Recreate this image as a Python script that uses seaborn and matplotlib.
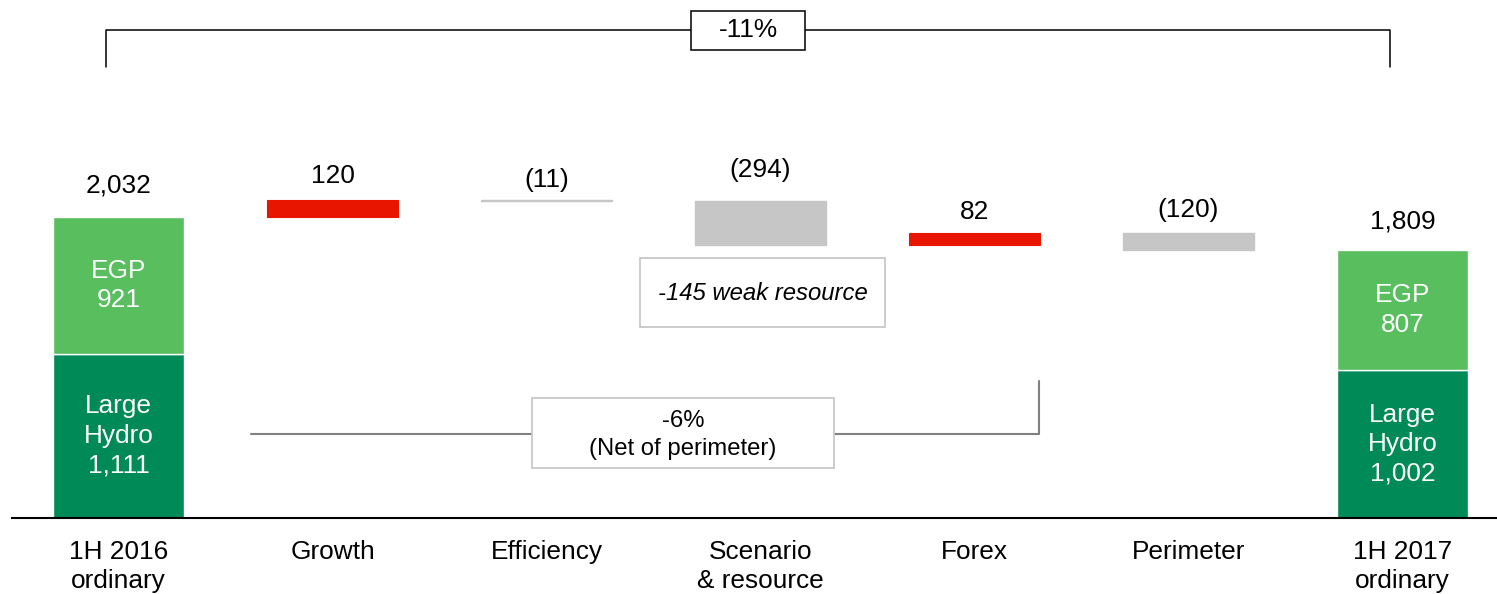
import numpy as np
import pandas as pd
import seaborn as sns
import matplotlib.pyplot as plt
from matplotlib.patches import Rectangle

# Data
categories = ["1H 2016\nordinary", "Growth", "Efficiency", "Scenario\n& resource",
              "Forex", "Perimeter", "1H 2017\nordinary"]
start_total = 2032
end_total = 1809
deltas = [120, -11, -294, 82, -120]
large_hydro = [1111, 1002]
egp = [921, 807]

# Colours
C_LH = "#008A57"
C_EGP = "#58BE5E"
C_UP = "#E81600"
C_DOWN = "#C6C6C6"

sns.set_style("white")
plt.rcParams['font.family'] = ['Liberation Sans', 'DejaVu Sans']
plt.rcParams['text.color'] = 'black'
plt.rcParams['xtick.color'] = 'black'
FS = 18.9
FS_NOTE = 17.2

# Build waterfall table
levels = start_total + np.cumsum([0] + deltas)
rows = []
for cat, lh, eg in zip([categories[0], categories[-1]], large_hydro, egp):
    rows.append(dict(cat=cat, layer="lh", bottom=0, height=lh))
    rows.append(dict(cat=cat, layer="egp", bottom=lh, height=eg))
for i, d in enumerate(deltas):
    rows.append(dict(cat=categories[i + 1], layer="up" if d > 0 else "down",
                     bottom=min(levels[i], levels[i + 1]), height=abs(d)))
df = pd.DataFrame(rows)

fig = plt.figure(figsize=(14.97, 5.94), dpi=100)
ax = fig.add_axes([12 / 1497, 76 / 594, 1485 / 1497, 518 / 594])

styles = {
    "lh": dict(color=C_LH, edgecolor="white", linewidth=1.0),
    "egp": dict(color=C_EGP, edgecolor="white", linewidth=1.0),
    "up": dict(color=C_UP, edgecolor=C_UP, linewidth=0.8),
    "down": dict(color=C_DOWN, edgecolor=C_DOWN, linewidth=1.0),
}
for layer, st in styles.items():
    sub = df[df["layer"] == layer].copy()
    sub["pos"] = sub["cat"].map(categories.index)
    sub = sub.sort_values("pos")
    n0 = len(ax.patches)
    sns.barplot(data=sub, x="cat", y="height", order=categories, width=0.612,
                saturation=1, errorbar=None, ax=ax, **st)
    for p, b in zip(ax.patches[n0:], sub["bottom"]):
        p.set_y(b)

# Value labels above bars
tops = [start_total] + [max(levels[i], levels[i + 1]) for i in range(len(deltas))] + [end_total]
labels = [f"{start_total:,}"] + [f"{d}" if d > 0 else f"({-d})" for d in deltas] + [f"{end_total:,}"]
offsets_px = [20, 12, 8, 19, 9, 11, 17]
for i, (t, lab, off) in enumerate(zip(tops, labels, offsets_px)):
    ax.annotate(lab, (i, t), xytext=(0, off * 0.72), textcoords="offset points",
                ha="center", va="bottom", fontsize=FS, color="black")

# Segment labels inside total bars
for i, lh, eg in zip([0, len(categories) - 1], large_hydro, egp):
    ax.text(i, lh + eg / 2, f"EGP\n{eg}", ha="center", va="center", color="white",
            fontsize=FS, linespacing=1.28)
    ax.text(i, lh / 2, f"Large\nHydro\n{lh:,}", ha="center", va="center", color="white",
            fontsize=FS, linespacing=1.28)

# Top bracket: overall change
ax.plot([-0.058, -0.058, 5.942, 5.942], [3047, 3297, 3297, 3047], color="black",
        lw=1.1, clip_on=False, zorder=2)
ax.add_patch(Rectangle((2.675, 3162), 0.533, 264, facecolor="white", edgecolor="black",
                       lw=1.1, zorder=3))
ax.text(2.942, 3294, "-11%", ha="center", va="center", fontsize=FS, zorder=4)

# Weak resource note
ax.add_patch(Rectangle((2.437, 1291), 1.145, 466, facecolor="white", edgecolor="#C8C8C8",
                       lw=1.3, zorder=3))
ax.text(3.012, 1514, "-145 weak resource", ha="center", va="center", fontsize=FS_NOTE,
        style="italic", zorder=4)

# Net of perimeter connector
ax.plot([0.619, 4.301, 4.301], [568, 568, 926], color="#808080", lw=1.5, zorder=2)
ax.add_patch(Rectangle((1.930, 338), 1.413, 473, facecolor="white", edgecolor="#C8C8C8",
                       lw=1.3, zorder=3))
ax.text(2.638, 558, "-6%\n(Net of perimeter)", ha="center", va="center",
        fontsize=FS_NOTE, linespacing=1.36, zorder=4)

# Axes formatting
ax.set_xlim(-0.498, 6.442)
ax.set_ylim(0, 3500)
ax.set_xlabel("")
ax.set_ylabel("")
ax.set_yticks([])
for s in ["left", "top", "right"]:
    ax.spines[s].set_visible(False)
ax.spines["bottom"].set_color("black")
ax.spines["bottom"].set_linewidth(1.5)
ax.tick_params(axis="x", length=0, pad=15.5, labelsize=FS, colors="black")
for lbl in ax.get_xticklabels():
    lbl.set_linespacing(1.27)

fig.savefig("out.png", dpi=100)
